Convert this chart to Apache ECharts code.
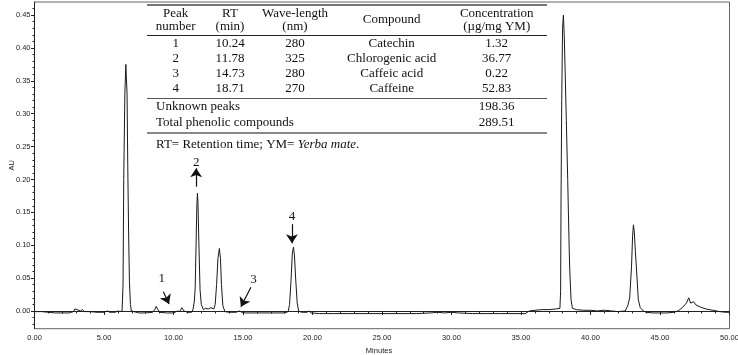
<!DOCTYPE html>
<html>
<head>
<meta charset="utf-8">
<script src="https://cdn.jsdelivr.net/npm/echarts@6/dist/echarts.min.js"></script>
<style>
  html, body { margin: 0; padding: 0; background: #fff; }
  #chrom { width: 738px; height: 355px; }
</style>
</head>
<body>
<div id="chrom"></div>
<script>
// retention time (min) and absorbance (AU)
var times = [
  0.00, 0.5, 1.0, 1.5, 2.0, 2.5, 2.8, 2.9, 3.0, 3.05, 3.15, 3.3, 3.45, 3.6, 4.0, 4.5, 5.0, 5.25, 5.4, 5.8,
  6.0, 6.15, 6.3, 6.37, 6.42, 6.5, 6.57, 6.61, 6.66, 6.71, 6.77, 6.83, 6.9, 6.97, 7.1, 7.5, 8.0, 8.5,
  8.65, 8.75, 8.85, 9.0, 9.5, 10.0, 10.3, 10.45, 10.6, 10.75, 11.0, 11.3, 11.4, 11.5, 11.56, 11.63,
  11.68, 11.72, 11.76, 11.82, 11.91, 12.0, 12.15, 12.3, 12.5, 12.7, 12.9, 13.0, 13.1, 13.2, 13.3, 13.38,
  13.45, 13.55, 13.7, 14.0, 14.5, 14.75, 14.9, 15.2, 16.0, 17.0, 18.0, 18.25, 18.35, 18.45, 18.55, 18.63,
  18.7, 18.8, 18.9, 19.0, 19.2, 19.6, 19.75, 19.9, 20.5, 21.5, 22.5, 23.5, 24.5, 25.5, 26.5, 27.5, 28.5,
  29.0, 29.5, 30.0, 30.5, 31.5, 32.5, 33.5, 34.5, 35.3, 35.6, 36.0, 36.5, 37.0, 37.5, 37.8, 37.85, 37.88,
  37.93, 37.99, 38.05, 38.11, 38.17, 38.26, 38.36, 38.45, 38.5, 38.6, 38.7, 39.0, 39.5, 40.0, 40.5, 40.9,
  41.0, 41.1, 41.5, 42.0, 42.5, 42.68, 42.82, 42.95, 43.03, 43.09, 43.15, 43.23, 43.3, 43.44, 43.58, 43.8,
  44.0, 44.5, 45.0, 45.5, 46.0, 46.3, 46.6, 46.9, 47.07, 47.2, 47.3, 47.42, 47.6, 47.9, 48.3, 48.8, 49.3,
  49.7, 50.0
]
var absorb = [
  -0.001, -0.001, -0.002, -0.003, -0.003, -0.003, -0.001, 0.003, 0.000, 0.002, -0.001, 0.000, 0.002, -0.001, -0.001, -0.002, -0.002, 0.000, -0.002, -0.002,
  0.000, -0.001, 0.000, 0.04, 0.2, 0.33, 0.375, 0.377, 0.33, 0.22, 0.12, 0.045, 0.01, 0.000, -0.003, -0.003, -0.003, -0.002,
  0.002, 0.007, 0.003, -0.002, -0.003, -0.003, 0.000, -0.001, 0.005, 0.000, -0.002, -0.002, 0.002, 0.015, 0.035, 0.108,
  0.16, 0.179, 0.165, 0.108, 0.032, 0.01, 0.002, 0.004, 0.003, 0.005, 0.003, 0.01, 0.04, 0.08, 0.095, 0.08,
  0.04, 0.008, -0.001, -0.002, -0.002, 0.000, -0.002, -0.003, -0.003, -0.003, -0.003, -0.001, 0.01, 0.045, 0.088, 0.097,
  0.085, 0.045, 0.012, 0.000, -0.002, -0.002, 0.000, -0.003, -0.004, -0.004, -0.004, -0.004, -0.004, -0.004, -0.004, -0.004, -0.003,
  -0.002, -0.003, -0.002, -0.003, -0.004, -0.004, -0.004, -0.004, -0.004, 0.000, 0.001, 0.002, 0.002, 0.003, 0.004, 0.03, 0.17,
  0.32, 0.43, 0.45, 0.42, 0.37, 0.29, 0.2, 0.11, 0.067, 0.017, 0.004, 0.002, 0.001, 0.001, 0.000, 0.001,
  0.004, 0.001, 0.000, -0.001, 0.000, 0.008, 0.02, 0.067, 0.115, 0.131, 0.12, 0.09, 0.067, 0.017, 0.005, 0.000,
  -0.002, -0.003, -0.003, -0.003, -0.002, 0.000, 0.005, 0.012, 0.02, 0.012, 0.01, 0.014, 0.009, 0.006, 0.003, 0.001, -0.001,
  -0.002, -0.002
]

// tick positions
var yMajor = [0, 0.05, 0.10, 0.15, 0.20, 0.25, 0.30, 0.35, 0.40, 0.45]
var yMinor = [-0.02, -0.01, 0, 0.01, 0.02, 0.03, 0.04, 0.05, 0.06, 0.07, 0.08, 0.09, 0.10, 0.11, 0.12, 0.13, 0.14,
  0.15, 0.16, 0.17, 0.18, 0.19, 0.20, 0.21, 0.22, 0.23, 0.24, 0.25, 0.26, 0.27, 0.28, 0.29, 0.30, 0.31, 0.32,
  0.33, 0.34, 0.35, 0.36, 0.37, 0.38, 0.39, 0.40, 0.41, 0.42, 0.43, 0.44, 0.45, 0.46]

// peak labels: number, arrow start, arrow end (minutes, AU), label spot
var peakNames = ['1', '2', '3', '4']
var arrowFrom = [[9.27, 0.0293], [11.63, 0.189], [15.57, 0.036], [18.52, 0.132]]
var arrowTo = [[9.68, 0.0106], [11.63, 0.217], [14.85, 0.0065], [18.52, 0.103]]
var nameAt = [[9.16, 0.0497], [11.63, 0.2254], [15.75, 0.048], [18.52, 0.143]]

// inset table
var headTop = ['Peak', 'RT', 'Wave-length', 'Compound', 'Concentration']
var headBottom = ['number', '(min)', '(nm)', '', '(\u00b5g/mg YM)']
var peakNumber = ['1', '2', '3', '4']
var rtMin = ['10.24', '11.78', '14.73', '18.71']
var waveNm = ['280', '325', '280', '270']
var compounds = ['Catechin', 'Chlorogenic acid', 'Caffeic acid', 'Caffeine']
var concentration = ['1.32', '36.77', '0.22', '52.83']
var totalsName = ['Unknown peaks', 'Total phenolic compounds']
var totalsValue = ['198.36', '289.51']

var chart = echarts.init(document.getElementById('chrom'))

var serif = '"Liberation Serif", "Times New Roman", serif'
var colX = [175.7, 230, 295, 391.7, 496.7]
var rowY = [44, 59, 74, 89]
var tableLeft = 147
var tableRight = 547

function txt(x, y, s, align, extra) {
  return {
    type: 'text', x: x, y: y, silent: true,
    style: Object.assign({
      text: s, font: '13px ' + serif, fill: '#111',
      align: align || 'center', verticalAlign: 'middle'
    }, extra || {})
  }
}
function hline(y, w, color) {
  return {
    type: 'line', silent: true,
    shape: { x1: tableLeft, y1: y, x2: tableRight, y2: y },
    style: { stroke: color, lineWidth: w }
  }
}

var graphics = []
graphics.push(hline(5, 2, '#777'))
graphics.push(hline(35.5, 1, '#222'))
graphics.push(hline(98.5, 1, '#555'))
graphics.push(hline(133, 2, '#888'))
for (var i = 0; i < headTop.length; i++) {
  if (headBottom[i]) {
    graphics.push(txt(colX[i], 13.5, headTop[i]))
    graphics.push(txt(colX[i], 27, headBottom[i]))
  } else {
    graphics.push(txt(colX[i], 20, headTop[i]))
  }
}
var cols = [peakNumber, rtMin, waveNm, compounds, concentration]
for (var r = 0; r < peakNumber.length; r++) {
  for (var c = 0; c < cols.length; c++) {
    graphics.push(txt(colX[c], rowY[r], cols[c][r]))
  }
}
for (var k = 0; k < totalsName.length; k++) {
  graphics.push(txt(156, 107 + k * 15.5, totalsName[k], 'left'))
  graphics.push(txt(colX[4], 107 + k * 15.5, totalsValue[k]))
}
graphics.push({
  type: 'text', x: 156, y: 144.5, silent: true,
  style: {
    text: '{n|RT= Retention time; YM= }{i|Yerba mate}{n|.}',
    verticalAlign: 'middle',
    rich: {
      n: { font: '13px ' + serif, fill: '#111' },
      i: { font: 'italic 13px ' + serif, fill: '#111' }
    }
  }
})

var arrowLines = []
var arrowLabels = []
for (var a = 0; a < peakNames.length; a++) {
  arrowLines.push([{ coord: arrowFrom[a] }, { coord: arrowTo[a] }])
  arrowLabels.push({ coord: nameAt[a], value: peakNames[a] })
}

var axisFont = { fontFamily: '"Liberation Sans", Arial, sans-serif', fontSize: 7.5, color: '#222' }

chart.setOption({
  animation: false,
  grid: {
    left: 34.5, right: 8.5, top: 2, bottom: 26.3,
    outerBoundsMode: 'none',
    show: true, borderColor: '#666', borderWidth: 1
  },
  xAxis: {
    type: 'value', min: 0, max: 50, interval: 5,
    name: 'Minutes', nameLocation: 'middle', nameGap: 14,
    nameTextStyle: Object.assign({ padding: [0, 6, 0, 0] }, axisFont),
    axisLine: { lineStyle: { color: '#222', width: 1 } },
    axisTick: { length: 4, lineStyle: { color: '#222' } },
    minorTick: { show: true, splitNumber: 5, length: 2.5, lineStyle: { color: '#222' } },
    axisLabel: Object.assign({ margin: 5, formatter: function (v) { return v.toFixed(2) } }, axisFont),
    splitLine: { show: false }
  },
  yAxis: [
    {
      type: 'value', min: -0.027, max: 0.47,
      name: 'AU', nameLocation: 'middle', nameGap: 19, nameRotate: 90,
      nameMoveOverlap: false,
      nameTextStyle: axisFont,
      axisLine: { show: true, lineStyle: { color: '#222', width: 1 } },
      axisTick: { show: true, length: 3.5, customValues: yMajor, lineStyle: { color: '#222' } },
      axisLabel: Object.assign({ margin: 4, customValues: yMajor, formatter: function (v) { return v.toFixed(2) } }, axisFont),
      splitLine: { show: false }
    },
    {
      type: 'value', min: -0.027, max: 0.47, position: 'left',
      axisLine: { show: false },
      axisTick: { show: true, length: 2, customValues: yMinor, lineStyle: { color: '#222' } },
      axisLabel: { show: false },
      splitLine: { show: false }
    }
  ],
  graphic: graphics,
  series: [
    {
      type: 'line',
      yAxisIndex: 0,
      showSymbol: false,
      silent: true,
      data: times.map(function (t, i) { return [t, absorb[i]] }),
      lineStyle: { color: '#1a1a1a', width: 1 },
      markLine: {
        silent: true,
        symbol: ['none', 'arrow'],
        symbolSize: 9,
        label: { show: false },
        lineStyle: { color: '#111', width: 1.2, type: 'solid' },
        data: arrowLines
      },
      markPoint: {
        silent: true,
        symbol: 'circle',
        symbolSize: 0,
        label: {
          show: true, position: 'inside', formatter: '{c}',
          fontFamily: '"Liberation Serif", "Times New Roman", serif', fontSize: 13, color: '#111'
        },
        data: arrowLabels
      }
    }
  ]
})
</script>
</body>
</html>
